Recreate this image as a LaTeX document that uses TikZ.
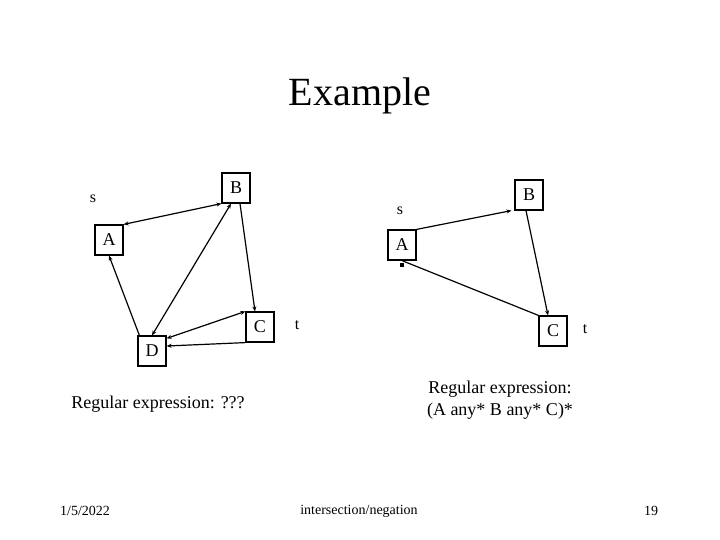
\documentclass[tikz,border=0pt]{standalone}
\usepackage{fontspec}
\setmainfont{Liberation Serif}
\usetikzlibrary{arrows.meta}
\begin{document}
\begin{tikzpicture}[x=1pt,y=-1pt,
  box/.style={draw,line width=1.2pt,minimum width=28pt,minimum height=30pt,inner sep=0pt,font=\fontsize{18}{20}\selectfont},
  lbl/.style={font=\fontsize{16}{18}\selectfont},
  ed/.style={line width=1.2pt,-{Stealth[length=5pt,width=4pt]}},
  ed2/.style={line width=1.2pt,{Stealth[length=5pt,width=4pt]}-{Stealth[length=5pt,width=4pt]}}]
\useasboundingbox (0,0) rectangle (720,540);
\node[font=\fontsize{40}{44}\selectfont] (title) at (360,96) {Example};
% left
\node[lbl] (s1) at (93,199) {s};
\node[box] (B1) at (236,188) {B};
\node[box] (A1) at (109,240) {A};
\node[box] (C1) at (260,327) {C};
\node[box] (D1) at (152,351) {D};
\node[lbl] (t1) at (297,325) {t};
\draw[ed2] (A1.north east) -- (B1.south west);
\draw[ed2] (B1.south) ++(-5,0) coordinate (b1) (b1) -- (D1.north);
\draw[ed] ([xshift=4pt]B1.south) -- ([xshift=-5pt]C1.north);
\draw[ed] (D1.north west) ++(2,0) coordinate (d1) (d1) -- (A1.south);
\draw[ed2] ([yshift=-3pt]D1.north east) -- (C1.north west);
\draw[ed] (C1.south west) -- ([yshift=5pt]D1.east);
\node[font=\fontsize{18}{20}\selectfont] (re1) at (158,404) {Regular expression: ???};
% right
\node[lbl] (s2) at (400,211) {s};
\node[box] (B2) at (529,195) {B};
\node[box] (A2) at (402,245) {A};
\node[box] (C2) at (553,331) {C};
\node[lbl] (t2) at (585,329) {t};
\draw[ed] (A2.north east) -- ([xshift=-3pt]B2.south west);
\draw[ed] ([xshift=-3pt]B2.south) -- ([xshift=-5pt]C2.north);
\draw[line width=1.2pt] (C2.north west) -- (A2.south);
\fill ([xshift=-2pt,yshift=-2pt]A2.south) rectangle ++(4,4);
\node[font=\fontsize{18}{22}\selectfont,align=center] (re2) at (500,400) {Regular expression:\\(A any* B any* C)*};
% footer
\node[font=\fontsize{14}{16}\selectfont] (date) at (85,511) {1/5/2022};
\node[font=\fontsize{14}{16}\selectfont] (foot) at (359,511) {intersection/negation};
\node[font=\fontsize{14}{16}\selectfont] (num) at (651,511) {19};
\end{tikzpicture}
\end{document}
